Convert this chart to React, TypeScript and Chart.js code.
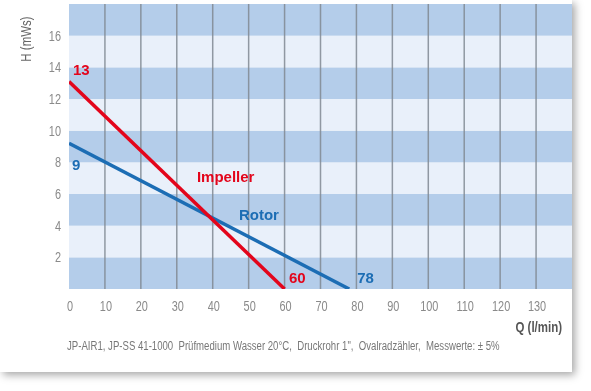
import React, { useEffect, useRef } from "react";
import { Chart, registerables } from "chart.js";

Chart.register(...registerables);

// Data
const impellerQ = [0, 60];
const impellerH = [13.1, 0];
const rotorQ = [0, 78];
const rotorH = [9.2, 0];

const xTicks = [0, 10, 20, 30, 40, 50, 60, 70, 80, 90, 100, 110, 120, 130];
const yTicks = [2, 4, 6, 8, 10, 12, 14, 16];

const labelTexts = ["13", "9", "Impeller", "Rotor", "60", "78"];
const labelQ = [1.1, 0.85, 35.6, 47.3, 61.2, 80.2];
const labelH = [13.8, 7.75, 7.05, 4.65, 0.63, 0.63];
const labelSeries = ["impeller", "rotor", "impeller", "rotor", "impeller", "rotor"];

const RED = "#e3051b";
const BLUE = "#1c6db4";
const DARK_BAND = "#b4cdea";
const LIGHT_BAND = "#e9f0fa";
const TICK_COLOR = "#8a8a8a";

const footnote =
  "JP-AIR1, JP-SS 41-1000  Prüfmedium Wasser 20°C,  Druckrohr 1\",  Ovalradzähler,  Messwerte: ± 5%";

const SANS = "'Liberation Sans', Arial, sans-serif";

function drawCondensed(ctx: any, text: string, x: number, y: number, align: string, factor: number, rotate = 0) {
  ctx.save();
  ctx.translate(x, y);
  if (rotate) ctx.rotate(rotate);
  ctx.scale(factor, 1);
  ctx.textAlign = align;
  ctx.fillText(text, 0, 0);
  ctx.restore();
}

const bandsPlugin = {
  id: "bands",
  beforeDatasetsDraw(chart: any) {
    const { ctx, chartArea, scales } = chart;
    const y = scales.y;
    ctx.save();
    for (let v = 0; v < 18; v += 2) {
      const top = y.getPixelForValue(v + 2);
      const bottom = y.getPixelForValue(v);
      ctx.fillStyle = (v / 2) % 2 === 0 ? DARK_BAND : LIGHT_BAND;
      ctx.fillRect(chartArea.left, top, chartArea.right - chartArea.left, bottom - top);
    }
    ctx.strokeStyle = "rgba(128,136,146,0.85)";
    ctx.lineWidth = 1.5;
    for (const t of xTicks) {
      if (t === 0) continue;
      const px = scales.x.getPixelForValue(t);
      ctx.beginPath();
      ctx.moveTo(px, chartArea.top);
      ctx.lineTo(px, chartArea.bottom);
      ctx.stroke();
    }
    ctx.restore();
  },
};

const textPlugin = {
  id: "texts",
  afterDatasetsDraw(chart: any) {
    const { ctx, scales, chartArea } = chart;
    ctx.save();
    ctx.textBaseline = "middle";
    // tick labels
    ctx.fillStyle = TICK_COLOR;
    ctx.font = `14px ${SANS}`;
    for (const t of xTicks) {
      drawCondensed(ctx, String(t), scales.x.getPixelForValue(t) + 1, chartArea.bottom + 18, "center", 0.78);
    }
    for (const t of yTicks) {
      drawCondensed(ctx, String(t), chartArea.left - 8, scales.y.getPixelForValue(t) + 1, "right", 0.78);
    }
    // series labels
    ctx.font = `bold 15px ${SANS}`;
    ctx.textAlign = "left";
    labelTexts.forEach((t, i) => {
      ctx.fillStyle = labelSeries[i] === "impeller" ? RED : BLUE;
      ctx.fillText(t, scales.x.getPixelForValue(labelQ[i]), scales.y.getPixelForValue(labelH[i]));
    });
    // axis titles
    ctx.fillStyle = "#666";
    ctx.font = `14px ${SANS}`;
    drawCondensed(ctx, "H (mWs)", 27.5, 39, "center", 0.82, -Math.PI / 2);
    ctx.font = `bold 14px ${SANS}`;
    ctx.fillStyle = "#555";
    drawCondensed(ctx, "Q (l/min)", chartArea.right - 10, 328, "right", 0.82);
    ctx.font = `12px ${SANS}`;
    ctx.fillStyle = "#777";
    drawCondensed(ctx, footnote, 67, 347, "left", 0.8);
    ctx.restore();
  },
};

export default function App() {
  const ref = useRef<HTMLCanvasElement | null>(null);
  useEffect(() => {
    document.body.style.margin = "0";
    const chart = new Chart(ref.current as HTMLCanvasElement, {
      type: "line",
      data: {
        datasets: [
          {
            label: "Impeller",
            data: impellerQ.map((q, i) => ({ x: q, y: impellerH[i] })),
            borderColor: RED,
            borderWidth: 3.5,
            pointRadius: 0,
            fill: false,
          },
          {
            label: "Rotor",
            data: rotorQ.map((q, i) => ({ x: q, y: rotorH[i] })),
            borderColor: BLUE,
            borderWidth: 3.5,
            pointRadius: 0,
            fill: false,
          },
        ],
      },
      options: {
        animation: false,
        responsive: false,
        layout: { padding: { top: 4, right: 19, left: 0, bottom: 0 } },
        plugins: { legend: { display: false }, tooltip: { enabled: false } },
        scales: {
          x: {
            type: "linear",
            min: 0,
            max: 140,
            afterFit: (s: any) => {
              s.height = 102;
              s.paddingLeft = 0;
              s.paddingRight = 0;
            },
            afterBuildTicks: (s: any) => {
              s.ticks = xTicks.map((v) => ({ value: v }));
            },
            grid: { display: false, drawTicks: false },
            border: { display: false },
            ticks: { display: false },
          },
          y: {
            type: "linear",
            min: 0,
            max: 18,
            afterFit: (s: any) => {
              s.width = 69;
              s.paddingTop = 0;
              s.paddingBottom = 0;
            },
            afterBuildTicks: (s: any) => {
              s.ticks = yTicks.map((v) => ({ value: v }));
            },
            grid: { display: false, drawTicks: false },
            border: { display: false },
            ticks: { display: false },
          },
        },
      },
      plugins: [bandsPlugin, textPlugin],
    });
    return () => chart.destroy();
  }, []);
  return (
    <div style={{ position: "relative", width: 591, height: 391, background: "#fff" }}>
      <div
        style={{
          position: "absolute",
          left: 0,
          top: 0,
          width: 572,
          height: 372,
          background: "#fff",
          boxShadow: "3px 3px 8px rgba(0,0,0,0.35)",
        }}
      />
      <canvas ref={ref} width={591} height={391} style={{ position: "absolute", left: 0, top: 0 }} />
    </div>
  );
}
